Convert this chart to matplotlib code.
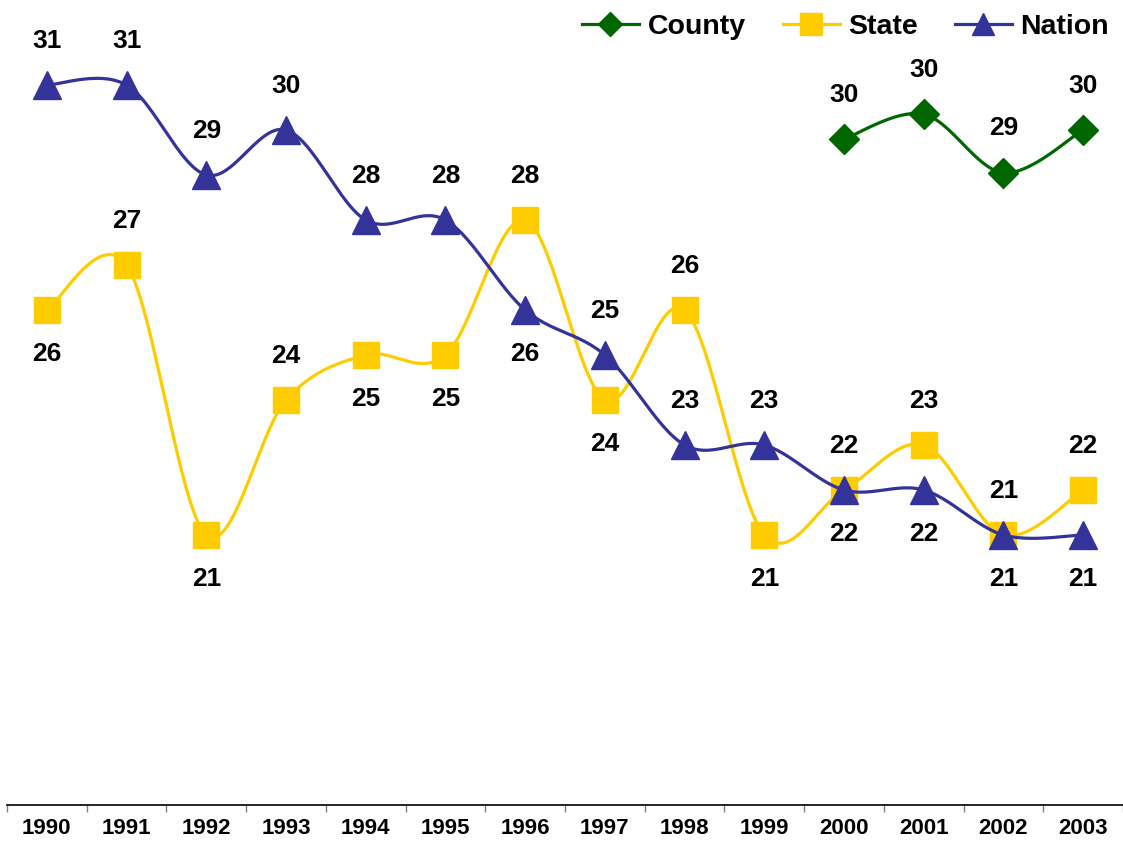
import numpy as np
import matplotlib
matplotlib.use("Agg")
import matplotlib.pyplot as plt
from matplotlib.lines import Line2D

years = ["1990", "1991", "1992", "1993", "1994", "1995", "1996",
         "1997", "1998", "1999", "2000", "2001", "2002", "2003"]
nation = [31, 31, 29, 30, 28, 28, 26, 25, 23, 23, 22, 22, 21, 21]
state = [26, 27, 21, 24, 25, 25, 28, 24, 26, 21, 22, 23, 21, 22]
county_years = ["2000", "2001", "2002", "2003"]
county = [29.8, 30.35, 29.05, 30.0]
county_labels = [30, 30, 29, 30]

# label placement: +1 above, -1 below
nation_pos = [1, 1, 1, 1, 1, 1, -1, 1, 1, 1, -1, -1, -1, -1]
state_pos = [-1, 1, -1, 1, -1, -1, 1, -1, 1, -1, 1, 1, 1, 1]
county_pos = [1, 1, 1, 1]

c_county = "#006600"
c_state = "#FFCC00"
c_nation = "#333399"

plt.rcParams['font.family'] = ['Liberation Sans', 'DejaVu Sans']
plt.rcParams['font.weight'] = 'bold'


def smooth(x, y, n=30):
    x = np.asarray(x, float)
    y = np.asarray(y, float)
    P = np.column_stack([x, y])
    out = []
    m = len(P)
    for i in range(m - 1):
        p0 = P[i - 1] if i > 0 else P[i]
        p1 = P[i]
        p2 = P[i + 1]
        p3 = P[i + 2] if i + 2 < m else P[i + 1]
        c1 = p1 + (p2 - p0) / 6.0
        c2 = p2 - (p3 - p1) / 6.0
        t = np.linspace(0, 1, n)[:, None]
        seg = ((1 - t) ** 3) * p1 + 3 * ((1 - t) ** 2) * t * c1 + 3 * (1 - t) * t ** 2 * c2 + t ** 3 * p2
        if i > 0:
            seg = seg[1:]
        out.append(seg)
    out = np.vstack(out)
    return out[:, 0], out[:, 1]


fig = plt.figure(figsize=(11.23, 8.42), dpi=100)
ax = fig.add_axes([7 / 1123, 37 / 842, 1116 / 1123, 801 / 842])

xn = np.arange(len(years))
xc = np.array([years.index(y) for y in county_years])

series = [
    (xc, county, c_county, 'D', 15, county_labels, county_pos, "County"),
    (xn, state, c_state, 's', 19, state, state_pos, "State"),
    (xn, nation, c_nation, '^', 20, nation, nation_pos, "Nation"),
]

handles = []
for z, (xs, ys, col, mk, ms, labs, pos, name) in enumerate(series):
    sx, sy = smooth(xs, ys)
    ax.plot(sx, sy, color=col, lw=2.3, zorder=2 + z * 2, solid_capstyle='round')
    ax.plot(xs, ys, linestyle='none', marker=mk, markersize=ms, color=col,
            markeredgecolor=col, zorder=3 + z * 2)
    for xi, yi, lb, p in zip(xs, ys, labs, pos):
        ax.annotate(str(lb), (xi, yi), xytext=(0, 32 * p), textcoords='offset points',
                    ha='center', va='center', fontsize=19, fontweight='bold', zorder=10)
    handles.append(Line2D([0], [0], color=col, lw=2.3, marker=mk,
                          markersize=ms * 0.8, markeredgecolor=col, label=name))

ax.set_xlim(-0.5, len(years) - 0.5)
ax.set_ylim(15, 32.8)
for s in ['top', 'right', 'left']:
    ax.spines[s].set_visible(False)
ax.spines['bottom'].set_color('#000000')
ax.spines['bottom'].set_linewidth(1.2)
ax.set_yticks([])
ax.set_xticks(xn)
ax.set_xticklabels(years, fontsize=16, fontweight='bold')
ax.set_xticks(np.arange(-0.5, len(years), 1.0), minor=True)
ax.tick_params(axis='x', which='major', length=0, pad=9)
ax.tick_params(axis='x', which='minor', length=5, width=1, color='#808080', direction='out')

fig.legend(handles=handles, loc='center right', bbox_to_anchor=(1109 / 1123, 1 - 27 / 842), ncol=3,
           frameon=False, prop={'size': 20.5, 'weight': 'bold'}, handlelength=2.0,
           handletextpad=0.3, columnspacing=1.3, borderpad=0, borderaxespad=0)

fig.savefig("out.png", dpi=100)
